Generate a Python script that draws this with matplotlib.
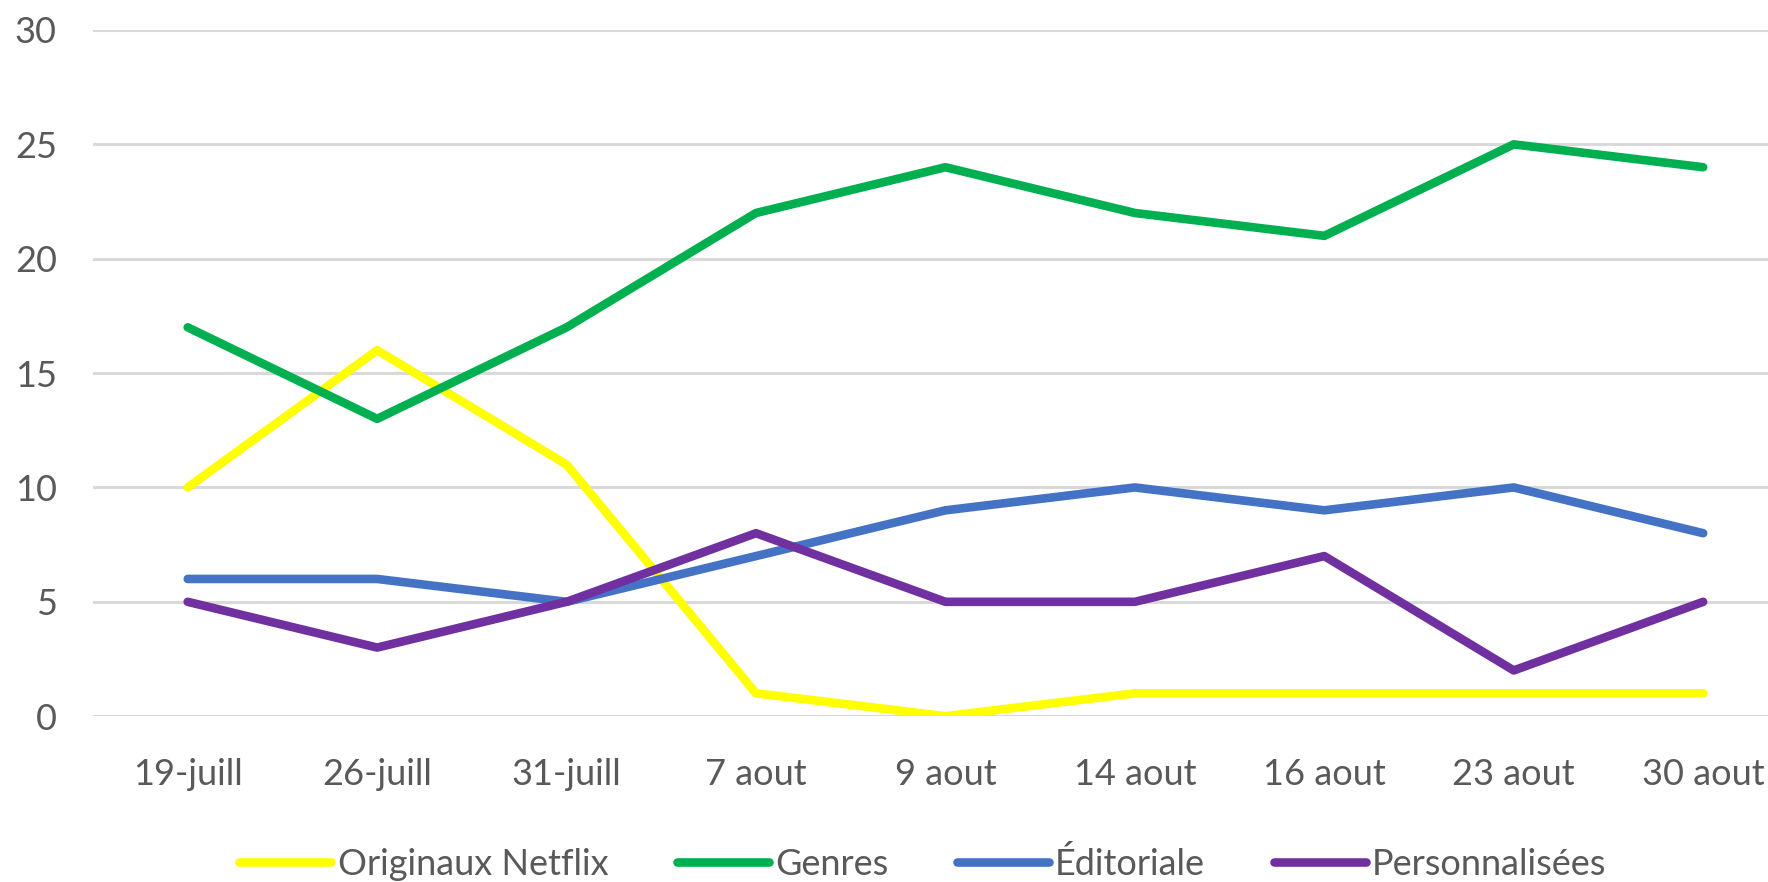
import matplotlib
matplotlib.use("Agg")
import matplotlib.pyplot as plt
from matplotlib.lines import Line2D

categories = ["19-juill", "26-juill", "31-juill", "7 aout", "9 aout",
              "14 aout", "16 aout", "23 aout", "30 aout"]
originaux = [10, 16, 11, 1, 0, 1, 1, 1, 1]
genres = [17, 13, 17, 22, 24, 22, 21, 25, 24]
editoriale = [6, 6, 5, 7, 9, 10, 9, 10, 8]
personnalisees = [5, 3, 5, 8, 5, 5, 7, 2, 5]
series_names = ["Originaux Netflix", "Genres", "Éditoriale", "Personnalisées"]
colors = ["#FFFF00", "#00B050", "#4472C4", "#7030A0"]

plt.rcParams['font.family'] = ['Lato', 'DejaVu Sans']
text_color = "#595959"

fig = plt.figure(figsize=(17.68, 8.82), dpi=100)
ax = fig.add_axes([0.0526, 0.188, 0.9643, 0.778])

x = list(range(len(categories)))
handles = []
for vals, name, c in zip([originaux, genres, editoriale, personnalisees], series_names, colors):
    ax.plot(x, vals, color=c, lw=6.2, solid_capstyle='round',
            solid_joinstyle='round', label=name, zorder=3)
    handles.append(Line2D([0], [0], color=c, lw=6.2, solid_capstyle='round'))

ax.set_xlim(-0.5, len(categories) - 0.5)
ax.set_ylim(0, 30)
ax.set_yticks([0, 5, 10, 15, 20, 25, 30])
ax.set_xticks(x)
ax.set_xticklabels(categories)
ax.grid(axis='y', color='#D9D9D9', lw=2.2, zorder=0)
ax.set_axisbelow(True)
for s in ax.spines.values():
    s.set_visible(False)
ax.tick_params(axis='both', length=0, labelsize=26, colors=text_color)
ax.tick_params(axis='y', pad=26)
ax.tick_params(axis='x', pad=30)

fig.legend(handles, series_names, loc='center', bbox_to_anchor=(0.522, 0.0204),
           ncol=4, frameon=False, fontsize=26, handlelength=2.55,
           handletextpad=0.17, columnspacing=1.9, labelcolor=text_color)

fig.savefig("out.png", dpi=100)
